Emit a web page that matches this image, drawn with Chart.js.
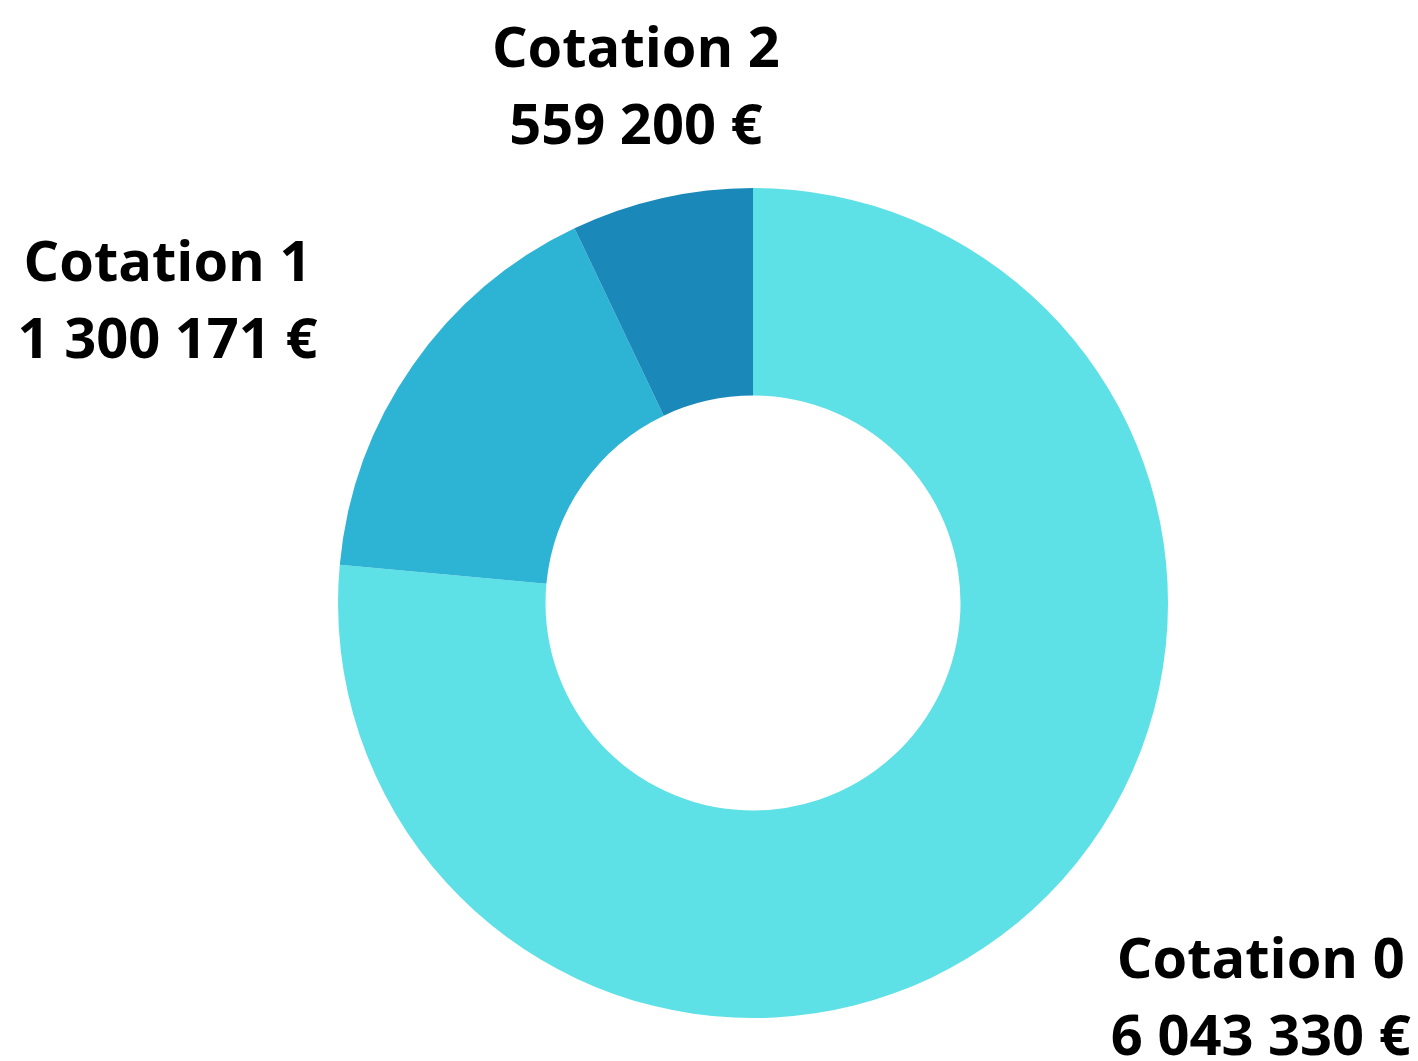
<!DOCTYPE html>
<html>
<head>
<meta charset="utf-8">
<script src="https://cdn.jsdelivr.net/npm/chart.js@4"></script>
<style>
  html, body { margin: 0; padding: 0; background: #fff; overflow: hidden; }
  #wrap { width: 1418px; height: 1061px; }
</style>
</head>
<body>
<div id="wrap"><canvas id="cotationChart"></canvas></div>
<script>
const categories = ['Cotation 0', 'Cotation 1', 'Cotation 2'];
const amounts = [6043330, 1300171, 559200];
const sliceColors = ['#5de0e6', '#2db3d4', '#1a89b9'];

function formatEuro(v) {
    // French style thousands with plain spaces
    return String(v).replace(/\B(?=(\d{3})+(?!\d))/g, ' ') + ' €';
}

// draws the two-line labels outside each slice, lines centred on each other
const outsideLabels = {
    id: 'outsideLabels',
    afterDatasetsDraw(chart) {
        const ctx = chart.ctx;
        const meta = chart.getDatasetMeta(0);
        ctx.save();
        ctx.fillStyle = '#000';
        ctx.font = 'bold 56px "Open Sans", "Noto Sans", sans-serif';
        ctx.textAlign = 'center';
        ctx.textBaseline = 'alphabetic';
        meta.data.forEach((arc, i) => {
            const lines = [categories[i], formatEuro(amounts[i])];
            const w = Math.max(...lines.map(l => ctx.measureText(l).width));
            const mid = (arc.startAngle + arc.endAngle) / 2;
            const r = arc.outerRadius * 1.28;
            const dx = Math.cos(mid), dy = Math.sin(mid);
            let x = arc.x + dx * r;
            const y = arc.y + dy * r;
            if (dx > 0.3) x += w / 2;
            else if (dx < -0.3) x -= w / 2;
            ctx.fillText(lines[0], x, y - 18);
            ctx.fillText(lines[1], x, y + 59);
        });
        ctx.restore();
    }
};

new Chart(document.getElementById('cotationChart'), {
    type: 'doughnut',
    data: {
        labels: categories,
        datasets: [{
            data: amounts,
            backgroundColor: sliceColors,
            borderWidth: 0
        }]
    },
    options: {
        responsive: true,
        maintainAspectRatio: false,
        animation: false,
        cutout: '50%',
        layout: {
            padding: { top: 188, bottom: 43, left: 338, right: 250 }
        },
        plugins: {
            legend: { display: false },
            tooltip: { enabled: false }
        }
    },
    plugins: [outsideLabels]
});
</script>
</body>
</html>
